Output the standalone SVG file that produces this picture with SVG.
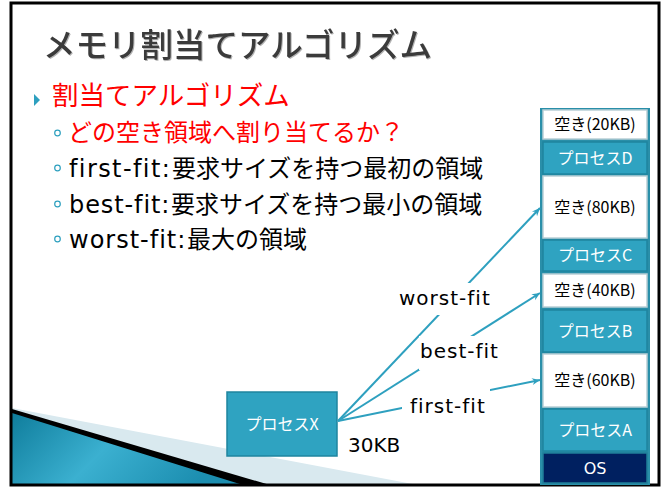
<svg xmlns="http://www.w3.org/2000/svg" width="669" height="488" viewBox="0 0 669 488">
<style>
.ja{font-family:"Noto Sans CJK JP",sans-serif}
.lat{font-family:"DejaVu Sans","Noto Sans CJK JP",sans-serif}
.title{font-size:32.5px;fill:#3a3a3a;font-weight:500}
.red{fill:#ff0000}
.sub{font-size:24px;fill:#000}
.blk{font-size:16px;text-anchor:middle}
.proc{fill:#2fa3c1;stroke:#1f859f;stroke-width:1.5}
.free{fill:#ffffff;stroke:#b9cfd6;stroke-width:1.5}
.wt{fill:#ffffff}
.lbl{font-size:20px;letter-spacing:1px;fill:#000}
.conn{stroke:#2ea0bf;stroke-width:2;fill:none}
.bul{fill:none;stroke:#2ea0bf;stroke-width:1.2}
</style>
<defs>
<linearGradient id="tealg" x1="0" y1="0" x2="1" y2="0.3">
<stop offset="0" stop-color="#0f7d9c"/>
<stop offset="0.5" stop-color="#3bb0d0"/>
<stop offset="1" stop-color="#1c8eb0"/>
</linearGradient>
<marker id="ah" markerWidth="10" markerHeight="10" refX="9" refY="5" orient="auto" markerUnits="userSpaceOnUse">
<path d="M1,1.5 L9,5 L1,8.5 L3.5,5 Z" fill="#2ea0bf"/>
</marker>
<filter id="sh" x="-5%" y="-20%" width="110%" height="140%">
<feDropShadow dx="1" dy="1" stdDeviation="0.6" flood-color="#000" flood-opacity="0.3"/>
</filter>
</defs>
<rect x="0" y="0" width="669" height="488" fill="#ffffff"/>
<g id="swoosh">
<polygon points="12,408 418,485 12,485" fill="#d9e9ef"/>
<polygon points="12,409 270,485 12,485" fill="#000000"/>
<polygon points="12,413 243,485 12,485" fill="url(#tealg)"/>
</g>
<rect x="11" y="3" width="648" height="482" fill="none" stroke="#000" stroke-width="3"/>

<g id="title">
<text class="ja title" x="43" y="57" filter="url(#sh)">メモリ割当てアルゴリズム</text>
</g>
<g id="bullets">
<polygon points="34,94 40,100 34,106" fill="#2ea0bf"/>
<text class="ja red" x="52" y="105" font-size="26.5">割当てアルゴリズム</text>
<circle class="bul" cx="57.5" cy="133" r="2.8"/>
<text class="ja sub red" x="68" y="141" style="fill:#ff0000">どの空き領域へ割り当てるか？</text>
<circle class="bul" cx="57.5" cy="168" r="2.8"/>
<text class="sub" y="177"><tspan class="lat" x="69" letter-spacing="1.4">first-fit:</tspan><tspan class="ja" x="172">要求サイズを持つ最初の領域</tspan></text>
<circle class="bul" cx="57.5" cy="204" r="2.8"/>
<text class="sub" y="213"><tspan class="lat" x="69" letter-spacing="0.9">best-fit:</tspan><tspan class="ja" x="171">要求サイズを持つ最小の領域</tspan></text>
<circle class="bul" cx="57.5" cy="239" r="2.8"/>
<text class="sub" y="248"><tspan class="lat" x="69" letter-spacing="1">worst-fit:</tspan><tspan class="ja" x="187">最大の領域</tspan></text>
</g>

<g id="memory">
<rect x="540" y="108" width="110" height="377" fill="#2a8fa9"/>
<g id="free20"><rect class="free" x="543" y="110" width="104" height="29"/><text class="ja blk" x="595" y="130">空き(20KB)</text></g>
<g id="procD"><rect class="proc" x="543" y="142" width="104" height="32"/><text class="ja blk wt" x="595" y="164">プロセスD</text></g>
<g id="free80"><rect class="free" x="543" y="176" width="104" height="62"/><text class="ja blk" x="595" y="213">空き(80KB)</text></g>
<g id="procC"><rect class="proc" x="543" y="240" width="104" height="31"/><text class="ja blk wt" x="595" y="261">プロセスC</text></g>
<g id="free40"><rect class="free" x="543" y="274" width="104" height="33"/><text class="ja blk" x="595" y="296">空き(40KB)</text></g>
<g id="procB"><rect class="proc" x="543" y="310" width="104" height="42"/><text class="ja blk wt" x="595" y="337">プロセスB</text></g>
<g id="free60"><rect class="free" x="543" y="354" width="104" height="53"/><text class="ja blk" x="595" y="386">空き(60KB)</text></g>
<g id="procA"><rect class="proc" x="543" y="409" width="104" height="42"/><text class="ja blk wt" x="595" y="436">プロセスA</text></g>
<g id="os"><rect x="543" y="453" width="104" height="30" fill="#002060" stroke="#1f7f99" stroke-width="1.5"/><text class="lat blk wt" x="595" y="474" font-size="17">OS</text></g>
</g>

<g id="procX">
<rect class="proc" x="227" y="392" width="110" height="64"/>
<text class="ja blk wt" x="282" y="430">プロセスX</text>
<text class="lat" x="348" y="452" font-size="20">30KB</text>
</g>

<g id="connectors">
<line class="conn" x1="338" y1="421" x2="540" y2="208" marker-end="url(#ah)"/>
<line class="conn" x1="338" y1="421" x2="540" y2="293" marker-end="url(#ah)"/>
<line class="conn" x1="338" y1="421" x2="540" y2="380" marker-end="url(#ah)"/>
<rect x="395" y="283" width="102" height="32" fill="#fff"/>
<text class="lat lbl" x="399" y="305">worst-fit</text>
<rect x="419" y="336" width="82" height="34" fill="#fff"/>
<text class="lat lbl" x="420" y="358">best-fit</text>
<rect x="402" y="389" width="88" height="29" fill="#fff"/>
<text class="lat lbl" x="410" y="413">first-fit</text>
</g>
</svg>
